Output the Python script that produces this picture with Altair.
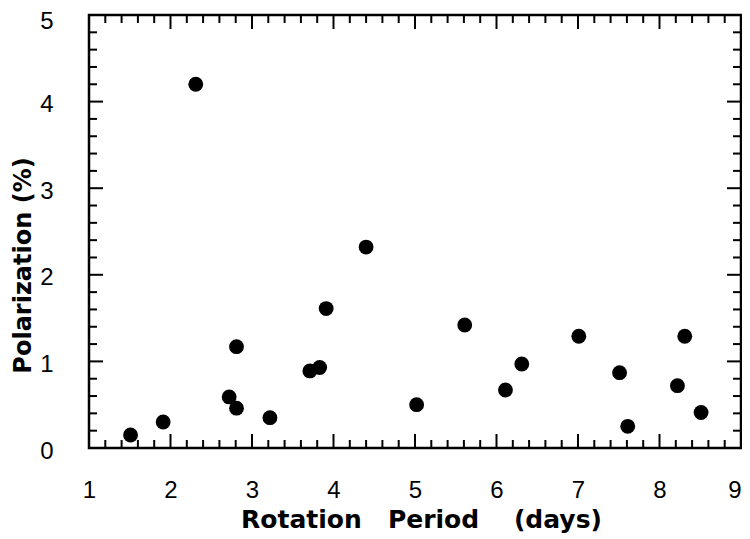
import altair as alt
import pandas as pd

# Data
period = [1.51, 1.91, 2.31, 2.72, 2.81, 2.81, 3.22, 3.71, 3.83, 3.91, 4.40,
          5.02, 5.61, 6.11, 6.31, 7.01, 7.51, 7.61, 8.22, 8.31, 8.51]
polarization = [0.15, 0.30, 4.20, 0.59, 0.46, 1.17, 0.35, 0.89, 0.93, 1.61, 2.32,
                0.50, 1.42, 0.67, 0.97, 1.29, 0.87, 0.25, 0.72, 1.29, 0.41]

x_major = [1, 2, 3, 4, 5, 6, 7, 8, 9]
x_minor = [1.2, 1.4, 1.6, 1.8, 2.2, 2.4, 2.6, 2.8, 3.2, 3.4, 3.6, 3.8,
           4.2, 4.4, 4.6, 4.8, 5.2, 5.4, 5.6, 5.8, 6.2, 6.4, 6.6, 6.8,
           7.2, 7.4, 7.6, 7.8, 8.2, 8.4, 8.6, 8.8]
y_major = [0, 1, 2, 3, 4, 5]
y_minor = [0.2, 0.4, 0.6, 0.8, 1.2, 1.4, 1.6, 1.8, 2.2, 2.4, 2.6, 2.8,
           3.2, 3.4, 3.6, 3.8, 4.2, 4.4, 4.6, 4.8]

x_title = "Rotation\u00a0\u00a0\u00a0Period\u00a0\u00a0\u00a0\u00a0(days)"
y_title = "Polarization (%)"

W, H = 652, 433
MAJ, MIN = 14, 8

df = pd.DataFrame({"period": period, "pol": polarization})
xs = alt.Scale(domain=[1, 9], nice=False, zero=False)
ys = alt.Scale(domain=[0, 5], nice=False, zero=False)

x_axis = alt.Axis(
    values=x_major, format="d", title=x_title,
    labelFont="Liberation Sans", labelFontSize=24, labelColor="black",
    labelBaseline="alphabetic", labelPadding=49, labelFlush=False,
    labelAlign=alt.condition("datum.value == 9", alt.value("right"), alt.value("center")),
    labelOverlap=False, ticks=False, tickSize=0, domain=False, grid=False,
    titleFont="DejaVu Sans", titleFontSize=25, titleFontWeight="bold",
    titleColor="black", titleBaseline="alphabetic", titleAlign="center",
    titleX=332, titleY=79)

y_axis = alt.Axis(
    values=y_major, format="d", title=y_title,
    labelFont="Liberation Sans", labelFontSize=24, labelColor="black",
    labelBaseline="middle", labelAlign="right", labelPadding=36,
    labelOffset=alt.condition("datum.value == 5", alt.value(6), alt.value(3)),
    labelFlush=False, labelOverlap=False,
    ticks=False, tickSize=0, domain=False, grid=False,
    titleFont="DejaVu Sans", titleFontSize=24, titleFontWeight="bold",
    titleColor="black", titleAngle=270, titleBaseline="alphabetic",
    titleAlign="center", titleX=-59, titleY=250)


def xticks(vals, y0, y1):
    return alt.Chart(pd.DataFrame({"v": vals})).mark_rule(
        color="black", strokeWidth=2).encode(
        x=alt.X("v:Q", scale=xs, axis=x_axis),
        y=alt.value(y0), y2=alt.value(y1))


def yticks(vals, x0, x1):
    return alt.Chart(pd.DataFrame({"v": vals})).mark_rule(
        color="black", strokeWidth=2).encode(
        y=alt.Y("v:Q", scale=ys, axis=y_axis),
        x=alt.value(x0), x2=alt.value(x1))


ticks = [
    xticks(x_major, H, H - MAJ), xticks(x_minor, H, H - MIN),
    xticks(x_major, 0, MAJ), xticks(x_minor, 0, MIN),
    yticks(y_major, 0, MAJ), yticks(y_minor, 0, MIN),
    yticks(y_major, W, W - MAJ), yticks(y_minor, W, W - MIN),
]

points = alt.Chart(df).mark_circle(size=220, color="black", opacity=1).encode(
    x=alt.X("period:Q", scale=xs, axis=x_axis),
    y=alt.Y("pol:Q", scale=ys, axis=y_axis),
)

chart = alt.layer(*ticks, points).properties(
    width=W, height=H,
    autosize=alt.AutoSizeParams(type="none"),
    padding={"left": 81, "top": 7, "right": 1, "bottom": 90},
    background="white",
).configure_view(stroke="black", strokeWidth=2.5)

chart.save("out.html", embed_options={"renderer": "svg", "actions": False})
